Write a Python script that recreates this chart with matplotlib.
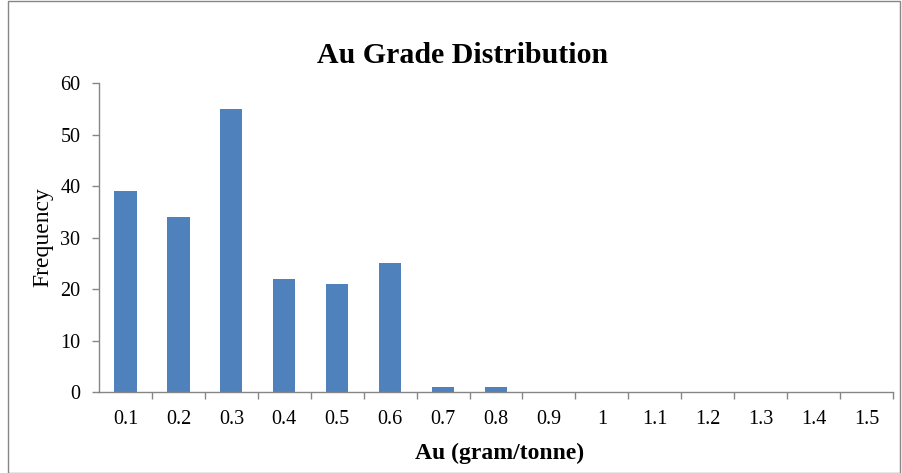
import matplotlib
matplotlib.use("Agg")
import matplotlib.pyplot as plt
from matplotlib.patches import Rectangle

plt.rcParams["font.family"] = ["Liberation Serif", "DejaVu Serif"]

# grade bins (g/t) and sample counts
grade_bins = ["0.1", "0.2", "0.3", "0.4", "0.5", "0.6", "0.7", "0.8",
              "0.9", "1", "1.1", "1.2", "1.3", "1.4", "1.5"]
frequency = [39, 34, 55, 22, 21, 25, 1, 1, 0, 0, 0, 0, 0, 0, 0]
y_ticks = [0, 10, 20, 30, 40, 50, 60]

BAR_COLOR = "#4F81BD"
AXIS_COLOR = "#868686"

fig = plt.figure(figsize=(9.02, 4.73), dpi=100)
ax = fig.add_axes([0.1098, 0.1712, 0.8802, 0.6533])

positions = list(range(len(grade_bins)))
ax.bar(positions, frequency, width=0.42, color=BAR_COLOR, zorder=2)

ax.set_xlim(-0.5, len(grade_bins) - 0.5)
ax.set_ylim(0, 60)
ax.set_yticks(y_ticks)
ax.set_yticklabels([str(v) for v in y_ticks], fontsize=14.5)

# category labels centred, tick marks between categories
ax.set_xticks(positions)
ax.set_xticklabels(grade_bins, fontsize=14.5)
ax.set_xticks([p + 0.5 for p in positions], minor=True)
ax.tick_params(axis="x", which="major", length=0, pad=13)
ax.tick_params(axis="x", which="minor", length=5, color=AXIS_COLOR, width=1)
ax.tick_params(axis="y", length=5, color=AXIS_COLOR, width=1, pad=8.5)

for side in ("top", "right"):
    ax.spines[side].set_visible(False)
for side in ("left", "bottom"):
    ax.spines[side].set_color(AXIS_COLOR)
    ax.spines[side].set_linewidth(1)

ax.set_xlabel("Au (gram/tonne)", fontsize=17, fontweight="bold")
ax.xaxis.set_label_coords(0.504, -0.165)
ax.set_ylabel("Frequency", fontsize=17)
ax.yaxis.set_label_coords(-0.058, 0.5)
fig.text(0.5128, 1 - 63 / 473, "Au Grade Distribution", fontsize=21.5,
         fontweight="bold", ha="center", va="baseline")

# chart-area border
fig.patches.append(Rectangle((0.009, 0.0), 0.989, 0.998, transform=fig.transFigure,
                             fill=False, edgecolor=AXIS_COLOR, linewidth=1))

fig.savefig("out.png", dpi=100)
